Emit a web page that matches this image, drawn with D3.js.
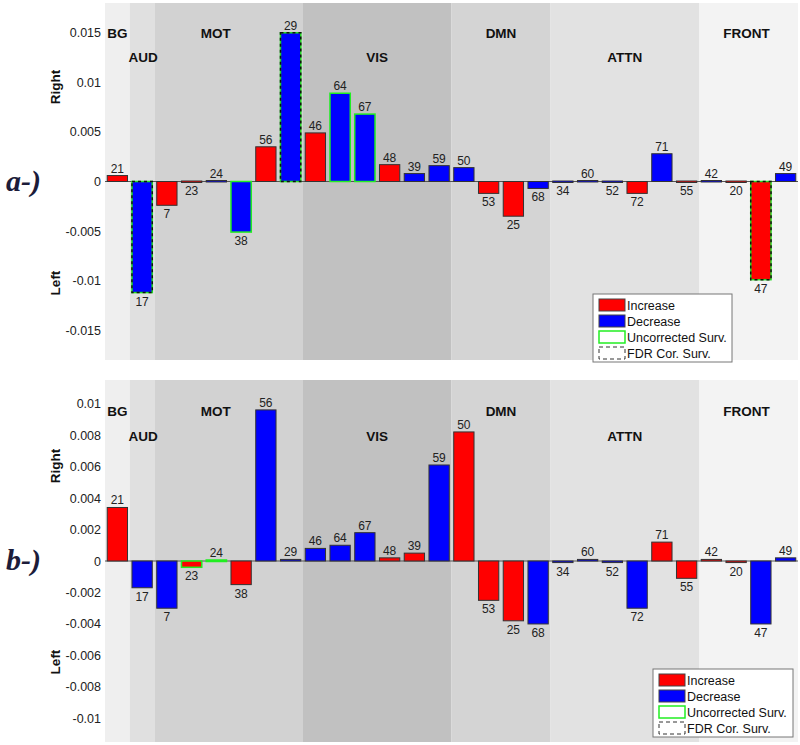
<!DOCTYPE html>
<html><head><meta charset="utf-8">
<script src="https://cdn.jsdelivr.net/npm/d3@7"></script>
<style>body{margin:0;background:#fff}svg{display:block}text{font-family:"Liberation Sans",Arial,sans-serif}</style>
</head><body><svg id="c" width="800" height="745"></svg>
<script>
const labels = ["21","17","7","23","24","38","56","29","46","64","67","48","39","59","50","53","25","68","34","60","52","72","71","55","42","20","47","49"];
const groups = ["BG","AUD","MOT","VIS","DMN","ATTN","FRONT"];
const groupSizes = [1,1,6,6,4,6,4];
const groupColors = ["#efefef","#e0e0e0","#d2d2d2","#c1c1c1","#d4d4d4","#e2e2e2","#f3f3f3"];
const groupRow = [0,1,0,1,0,1,0];

const valuesA = [0.0006,-0.0112,-0.0024,-0.0001,0.0001,-0.0051,0.0035,0.0150,0.0049,0.0089,0.0068,0.0017,0.0008,0.0016,0.0014,-0.0012,-0.0035,-0.0007,-0.0001,0.0001,-0.0001,-0.0012,0.0028,-0.0001,0.0001,-0.0001,-0.0099,0.0008];
const colorsA = ["inc","dec","inc","inc","dec","dec","inc","dec","inc","dec","dec","inc","dec","dec","dec","inc","inc","dec","dec","dec","dec","inc","dec","inc","dec","inc","inc","dec"];
const survA = ["n","f","n","n","n","u","n","f","n","u","u","n","n","n","n","n","n","n","n","n","n","n","n","n","n","n","f","n"];
const ticksA = [0.015,0.01,0.005,0,-0.005,-0.01,-0.015];

const valuesB = [0.0034,-0.0017,-0.0030,-0.0004,0.00005,-0.0015,0.0096,0.0001,0.0008,0.0010,0.0018,0.0002,0.0005,0.0061,0.0082,-0.0025,-0.0038,-0.0040,-0.0001,0.0001,-0.0001,-0.0030,0.0012,-0.0011,0.0001,-0.0001,-0.0040,0.0002];
const colorsB = ["inc","dec","dec","inc","inc","inc","dec","dec","dec","dec","dec","inc","inc","dec","inc","inc","inc","dec","dec","dec","dec","dec","inc","inc","inc","inc","dec","dec"];
const survB = ["n","n","n","u","u","n","n","n","n","n","n","n","n","n","n","n","n","n","n","n","n","n","n","n","n","n","n","n"];
const ticksB = [0.01,0.008,0.006,0.004,0.002,0,-0.002,-0.004,-0.006,-0.008,-0.01];

const legendItems = ["Increase","Decrease","Uncorrected Surv.","FDR Cor. Surv."];
const fillMap = {inc:"#ff0000", dec:"#0000ff"};

const svg = d3.select("#c");
// label horizontal nudges (layout only)
const labelNudge = {MOT:-13, FRONT:-2, AUD:1};

function panel(cfg){
  const g = svg.append("g");
  const bgLayer = g.append("g"), labLayer = g.append("g");
  const x = d3.scaleBand().domain(d3.range(labels.length)).range([105,798]).paddingInner(0.18).paddingOuter(0.09);
  const y = d3.scaleLinear().domain(cfg.domain).range([cfg.y1, cfg.y0]);
  const step = x.step(), gap = (step - x.bandwidth())/2;
  let start = 0;
  groups.forEach((name,i)=>{
    const x0 = i===0 ? 105 : x(start)-gap;
    const last = start+groupSizes[i]-1;
    const x1 = i===groups.length-1 ? 798 : x(last)+x.bandwidth()+gap;
    bgLayer.append("rect").attr("x",x0).attr("y",cfg.y0).attr("width",x1-x0).attr("height",cfg.y1-cfg.y0).attr("fill",groupColors[i]);
    labLayer.append("text").attr("x",(x0+x1)/2+(labelNudge[name]||0)).attr("y", groupRow[i]===0 ? cfg.lab0 : cfg.lab1)
      .attr("text-anchor","middle").attr("font-weight","bold").attr("font-size",13.5).attr("fill","#111").text(name);
    start += groupSizes[i];
  });
  g.append("line").attr("x1",105).attr("x2",798).attr("y1",y(0)).attr("y2",y(0)).attr("stroke","#555").attr("stroke-width",1);
  const ax = g.append("g").attr("transform","translate(105,0)").call(d3.axisLeft(y).tickValues(cfg.ticks).tickSize(0).tickPadding(4).tickFormat(d=>d===0?"0":String(+d.toFixed(4))));
  ax.select(".domain").remove();
  ax.selectAll("text").attr("font-size",12.5).attr("fill","#222").style("font-family","Liberation Sans, Arial, sans-serif");
  g.append("text").attr("transform",`translate(60,${cfg.rightY}) rotate(-90)`).attr("text-anchor","middle").attr("font-weight","bold").attr("font-size",13.5).attr("fill","#111").text("Right");
  g.append("text").attr("transform",`translate(60,${cfg.leftY}) rotate(-90)`).attr("text-anchor","middle").attr("font-weight","bold").attr("font-size",13.5).attr("fill","#111").text("Left");
  g.append("text").attr("x",6).attr("y",y(0)+9).attr("font-style","italic").attr("font-weight","bold").attr("font-size",30).attr("fill","#1c1c3a").style("font-family","Liberation Serif, serif").text(cfg.tag);
  cfg.values.forEach((v,i)=>{
    const xb = x(i), w = x.bandwidth();
    let yt = Math.min(y(v), y(0)), h = Math.abs(y(v)-y(0));
    if (h < 1.5){ h = 1.5; yt = y(0) - (v>=0?1:0.5); }
    const s = cfg.surv[i];
    const r = g.append("rect").attr("x",xb).attr("y",yt).attr("width",w).attr("height",h).attr("fill",fillMap[cfg.colors[i]]);
    if (s==="n"){ r.attr("stroke","#333").attr("stroke-width",1); }
    else if (s==="u"){ r.attr("stroke","#22ee22").attr("stroke-width",1.5); }
    else {
      r.attr("stroke","#22dd22").attr("stroke-width",1.5);
      g.append("rect").attr("x",xb).attr("y",yt).attr("width",w).attr("height",h).attr("fill","none").attr("stroke","#111").attr("stroke-width",1.5).attr("stroke-dasharray","3,3");
    }
    g.append("text").attr("x",xb+w/2).attr("y", v>=0 ? y(v)-3 : y(v)+13).attr("text-anchor","middle").attr("font-size",12).attr("fill","#222").text(labels[i]);
  });
  const L = cfg.legend;
  const lg = g.append("g").attr("transform",`translate(${L.x},${L.y})`);
  lg.append("rect").attr("x",0).attr("y",0).attr("width",L.w).attr("height",68).attr("fill","#fff").attr("stroke","#777").attr("stroke-width",1);
  legendItems.forEach((t,i)=>{
    const yy = 5 + i*16;
    const sw = lg.append("rect").attr("x",6).attr("y",yy).attr("width",26).attr("height",12);
    if (i===0) sw.attr("fill","#ff0000").attr("stroke","#444");
    else if (i===1) sw.attr("fill","#0000ff").attr("stroke","#444");
    else if (i===2) sw.attr("fill","#fff").attr("stroke","#22ee22").attr("stroke-width",1.5);
    else sw.attr("fill","#fff").attr("stroke","#333").attr("stroke-dasharray","4,3");
    lg.append("text").attr("x",34).attr("y",yy+11).attr("font-size",12.5).attr("fill","#111").text(t);
  });
}

panel({domain:[-0.018,0.018], y0:3, y1:360, values:valuesA, colors:colorsA, surv:survA, ticks:ticksA,
  lab0:38, lab1:62, rightY:87, leftY:283, tag:"a-)", legend:{x:593,y:294,w:139}});
panel({domain:[-0.0115,0.0115], y0:380, y1:742, values:valuesB, colors:colorsB, surv:survB, ticks:ticksB,
  lab0:416, lab1:441, rightY:466, leftY:662, tag:"b-)", legend:{x:653,y:669,w:140}});
</script></body></html>
